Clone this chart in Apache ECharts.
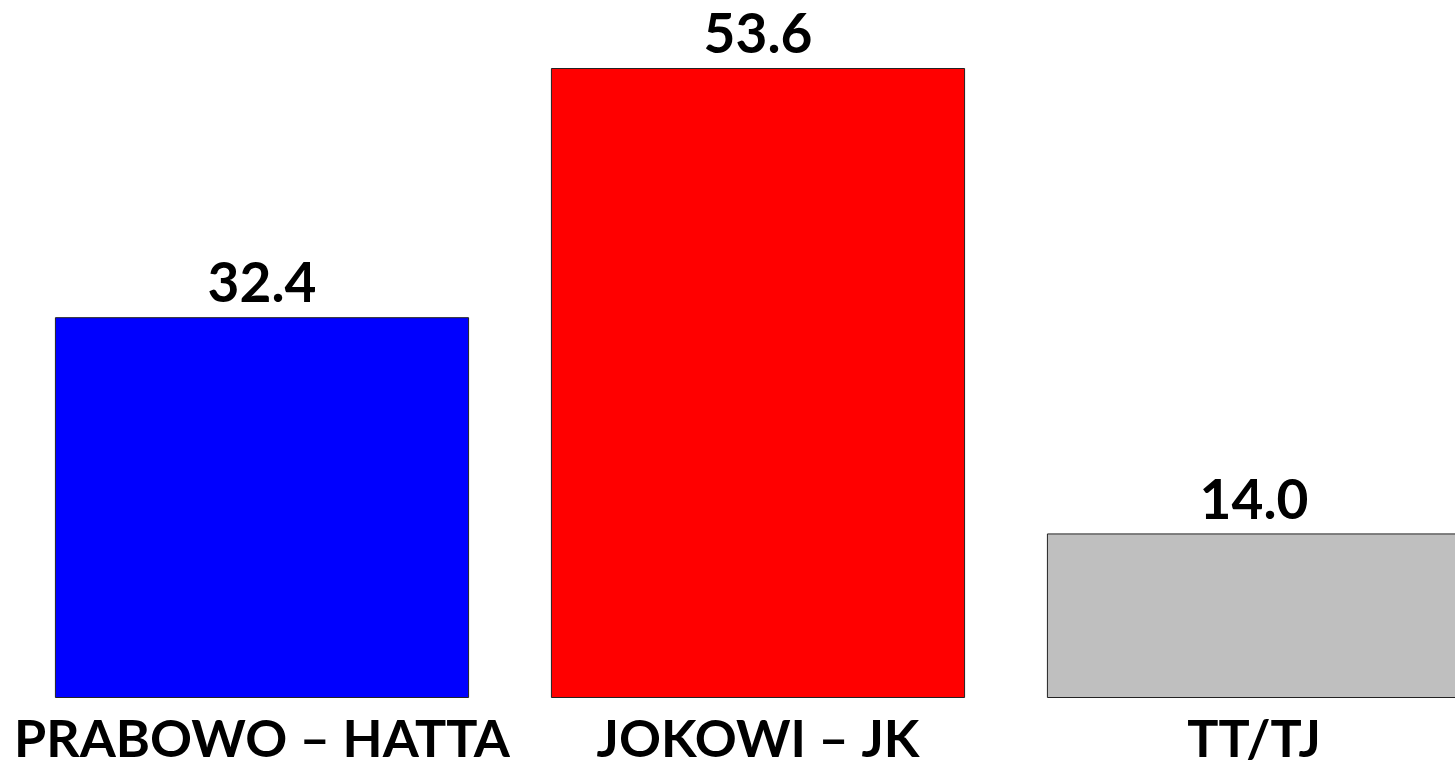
<!DOCTYPE html>
<html><head><meta charset="utf-8">
<script src="https://cdn.jsdelivr.net/npm/echarts@6/dist/echarts.min.js"></script>
<style>html,body{margin:0;padding:0;background:#fff}#c{width:1455px;height:764px}</style>
</head><body><div id="c"></div>
<script>
const categories = ['PRABOWO – HATTA', 'JOKOWI – JK', 'TT/TJ'];
const values = [32.4, 53.6, 14.0];
const colors = ['#0000FF', '#FF0000', '#BFBFBF'];

const chart = echarts.init(document.getElementById('c'));
chart.setOption({
  backgroundColor: '#ffffff',
  animation: false,
  grid: { left: 14, width: 1488, top: 68, height: 630, outerBoundsMode: 'none', containLabel: false },
  xAxis: {
    type: 'category', data: categories,
    axisLine: { show: false }, axisTick: { show: false },
    axisLabel: { color: '#000', fontFamily: 'Lato', fontWeight: 'bold', fontSize: 52, margin: 16, interval: 0, hideOverlap: false }
  },
  yAxis: { type: 'value', min: 0, max: Math.max(...values), show: false, splitLine: { show: false } },
  series: [{
    type: 'bar',
    data: values.map((v, i) => ({ value: v, itemStyle: { color: colors[i] } })),
    barCategoryGap: '16.5%',
    itemStyle: { borderColor: '#222', borderWidth: 1 },
    label: {
      show: true, position: 'top', distance: 5, color: '#000',
      fontFamily: 'Lato', fontWeight: 'bold', fontSize: 55,
      formatter: p => p.value.toFixed(1)
    }
  }]
});
</script></body></html>
